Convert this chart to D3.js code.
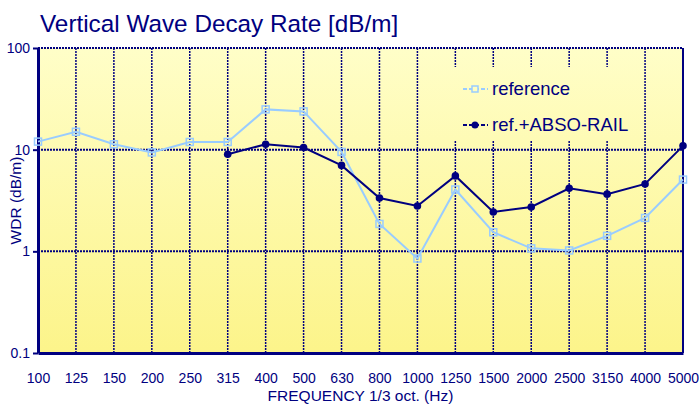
<!DOCTYPE html>
<html>
<head>
<meta charset="utf-8">
<script src="https://cdn.jsdelivr.net/npm/d3@7"></script>
<style>
  body { margin: 0; background: #fff; }
  text { font-family: "Liberation Sans", Arial, sans-serif; fill: #000080; }
</style>
</head>
<body>
<div id="chart"></div>
<script>
'use strict';

// 1/3 octave bands
var freqs = ['100','125','150','200','250','315','400','500','630','800','1000','1250','1500','2000','2500','3150','4000','5000'];
// reference track
var refValues = [12, 15, 11.3, 9.4, 11.9, 11.9, 24.9, 23.8, 9.5, 1.86, 0.85, 4.06, 1.54, 1.07, 1.02, 1.42, 2.13, 5.08];
// with ABSO-RAIL absorbers (no data below 315 Hz)
var absoValues = [null, null, null, null, null, 9.0, 11.3, 10.5, 7.0, 3.35, 2.79, 5.52, 2.44, 2.73, 4.17, 3.65, 4.6, 10.9];
var yTicks = [0.1, 1, 10, 100];
var yTickLabels = ['0.1', '1', '10', '100'];

var W = 699, H = 405;
var pLeft = 38, pRight = 683, pTop = 48, pBottom = 353;
var navy = '#000080', light = '#99ccff';
var font = '"Liberation Sans", Arial, sans-serif';

var svg = d3.select('#chart').append('svg')
  .attr('width', W)
  .attr('height', H);

var x = d3.scalePoint().domain(freqs).range([pLeft, pRight]);
var y = d3.scaleLog().domain([0.1, 100]).range([pBottom, pTop]);

var defs = svg.append('defs');
var grad = defs.append('linearGradient')
  .attr('id', 'bg')
  .attr('gradientUnits', 'userSpaceOnUse')
  .attr('x1', 0).attr('y1', pTop).attr('x2', 0).attr('y2', pBottom);
grad.append('stop').attr('offset', '0%').attr('stop-color', '#fffec8');
grad.append('stop').attr('offset', '100%').attr('stop-color', '#fcf48a');

svg.append('rect')
  .attr('x', pLeft).attr('y', pTop)
  .attr('width', pRight - pLeft).attr('height', pBottom - pTop)
  .attr('fill', 'url(#bg)');

// vertical grid
svg.append('g').selectAll('line')
  .data(freqs.slice(1, -1))
  .enter().append('line')
  .attr('x1', function(d) { return x(d); })
  .attr('x2', function(d) { return x(d); })
  .attr('y1', pTop).attr('y2', pBottom)
  .attr('stroke', navy)
  .attr('stroke-width', 1.5)
  .attr('stroke-dasharray', '2,1');

// legend background hides the grid behind it
svg.append('rect')
  .attr('x', 440).attr('y', 67)
  .attr('width', 190).attr('height', 73)
  .attr('fill', 'url(#bg)');

// horizontal grid
svg.append('g').selectAll('line')
  .data([1, 10])
  .enter().append('line')
  .attr('x1', pLeft).attr('x2', pRight)
  .attr('y1', function(d) { return y(d); })
  .attr('y2', function(d) { return y(d); })
  .attr('stroke', navy)
  .attr('stroke-width', 2)
  .attr('stroke-dasharray', '2,1');

// frame
svg.append('line')
  .attr('x1', pLeft).attr('x2', pRight).attr('y1', pTop).attr('y2', pTop)
  .attr('stroke', navy).attr('stroke-width', 2).attr('stroke-dasharray', '2,1');
svg.append('line')
  .attr('x1', pRight).attr('x2', pRight).attr('y1', pTop).attr('y2', pBottom)
  .attr('stroke', navy).attr('stroke-width', 2);

// y axis
var yAxis = d3.axisLeft(y)
  .tickValues(yTicks)
  .tickFormat(function(d, i) { return yTickLabels[i]; })
  .tickSizeInner(5).tickSizeOuter(0).tickPadding(3);
var gy = svg.append('g').attr('transform', 'translate(' + pLeft + ',0)').call(yAxis);
gy.select('.domain').attr('stroke', navy).attr('stroke-width', 3);
gy.selectAll('.tick line').attr('stroke', navy).attr('stroke-width', 2);
gy.selectAll('.tick text').attr('fill', navy).style('font-size', '14px').style('font-family', font);

// x axis
var xAxis = d3.axisBottom(x).tickSize(0).tickPadding(20);
var gx = svg.append('g').attr('transform', 'translate(0,' + pBottom + ')').call(xAxis);
gx.select('.domain').attr('stroke', navy).attr('stroke-width', 3);
gx.selectAll('.tick text').attr('fill', navy).style('font-size', '14px').style('font-family', font);

// series
var line = d3.line()
  .defined(function(d) { return d != null; })
  .x(function(d, i) { return x(freqs[i]); })
  .y(function(d) { return y(d); });

svg.append('path').datum(refValues)
  .attr('d', line).attr('fill', 'none')
  .attr('stroke', light).attr('stroke-width', 2);
svg.append('g').selectAll('rect')
  .data(refValues)
  .enter().append('rect')
  .attr('x', function(d, i) { return x(freqs[i]) - 3.5; })
  .attr('y', function(d) { return y(d) - 3.5; })
  .attr('width', 7).attr('height', 7)
  .attr('fill', 'none').attr('stroke', light).attr('stroke-width', 1.5);

svg.append('path').datum(absoValues)
  .attr('d', line).attr('fill', 'none')
  .attr('stroke', navy).attr('stroke-width', 2);
svg.append('g').selectAll('circle')
  .data(absoValues.map(function(d, i) { return {f: freqs[i], v: d}; }).filter(function(d) { return d.v != null; }))
  .enter().append('circle')
  .attr('cx', function(d) { return x(d.f); })
  .attr('cy', function(d) { return y(d.v); })
  .attr('r', 3.8)
  .attr('fill', navy);

// legend
var leg = svg.append('g');
leg.append('line').attr('x1', 463).attr('x2', 488).attr('y1', 89).attr('y2', 89)
  .attr('stroke', light).attr('stroke-width', 2).attr('stroke-dasharray', '4,2');
leg.append('rect').attr('x', 472).attr('y', 86).attr('width', 6).attr('height', 6)
  .attr('fill', '#fffec0').attr('stroke', light).attr('stroke-width', 1.5);
leg.append('text').attr('x', 492).attr('y', 95).style('font-size', '18.5px').text('reference');
leg.append('line').attr('x1', 463).attr('x2', 488).attr('y1', 125).attr('y2', 125)
  .attr('stroke', navy).attr('stroke-width', 2).attr('stroke-dasharray', '4,2');
leg.append('circle').attr('cx', 475).attr('cy', 125).attr('r', 3.5).attr('fill', navy);
leg.append('text').attr('x', 492).attr('y', 131).style('font-size', '18.5px').text('ref.+ABSO-RAIL');

// titles
svg.append('text').attr('x', 40).attr('y', 32)
  .style('font-size', '24.3px').text('Vertical Wave Decay Rate [dB/m]');
svg.append('text').attr('x', (pLeft + pRight) / 2).attr('y', 401)
  .attr('text-anchor', 'middle').style('font-size', '15.5px')
  .text('FREQUENCY 1/3 oct. (Hz)');
svg.append('text')
  .attr('transform', 'translate(21,' + ((pTop + pBottom) / 2) + ') rotate(-90)')
  .attr('text-anchor', 'middle').style('font-size', '15.5px')
  .text('WDR (dB/m)');
</script>
</body>
</html>
